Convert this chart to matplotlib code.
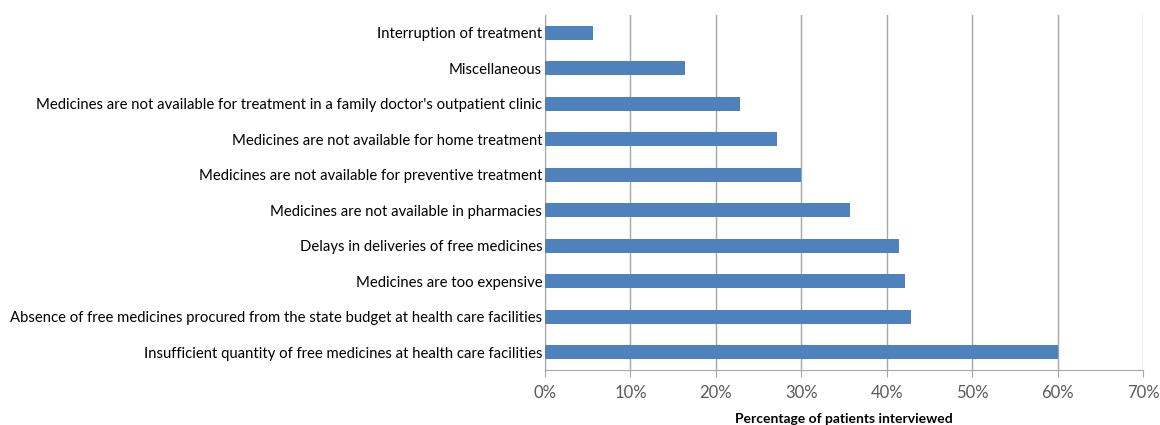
import matplotlib.pyplot as plt
from matplotlib.ticker import PercentFormatter

# Reasons (top to bottom as shown in chart)
reasons = [
    "Interruption of treatment",
    "Miscellaneous",
    "Medicines are not available for treatment in a family doctor's outpatient clinic",
    "Medicines are not available for home treatment",
    "Medicines are not available for preventive treatment",
    "Medicines are not available in pharmacies",
    "Delays in deliveries of free medicines",
    "Medicines are too expensive",
    "Absence of free medicines procured from the state budget at health care facilities",
    "Insufficient quantity of free medicines at health care facilities",
]
percent = [5.6, 16.4, 22.8, 27.1, 30.0, 35.7, 41.4, 42.1, 42.8, 60.0]

plt.rcParams['font.family'] = ['Lato', 'DejaVu Sans']

fig = plt.figure(figsize=(11.6, 4.25), dpi=100)
ax = fig.add_axes([545 / 1160, 1 - 370 / 425, 598 / 1160, 355 / 425])

ypos = list(range(len(reasons)))
ax.barh(ypos, percent, height=0.4, color='#4F81BD', zorder=3)
ax.set_yticks(ypos)
ax.set_yticklabels(reasons, fontsize=10.7, color='black')
ax.set_ylim(len(reasons) - 0.5, -0.5)
ax.tick_params(axis='y', length=0, pad=2)

ax.set_xlim(0, 70)
ax.set_xticks(range(0, 71, 10))
ax.xaxis.set_major_formatter(PercentFormatter(decimals=0))
ax.tick_params(axis='x', direction='out', length=5, color='#A6A6A6',
               labelsize=12, labelcolor='#595959', pad=6)
ax.grid(axis='x', color='#A6A6A6', linewidth=1, zorder=0)

for s in ['top', 'right']:
    ax.spines[s].set_visible(False)
ax.spines['left'].set_color('#A6A6A6')
ax.spines['bottom'].set_color('#A6A6A6')

ax.set_xlabel('Percentage of patients interviewed', fontsize=10,
              fontweight='bold', labelpad=8.5)

fig.savefig('out.png', dpi=100)
